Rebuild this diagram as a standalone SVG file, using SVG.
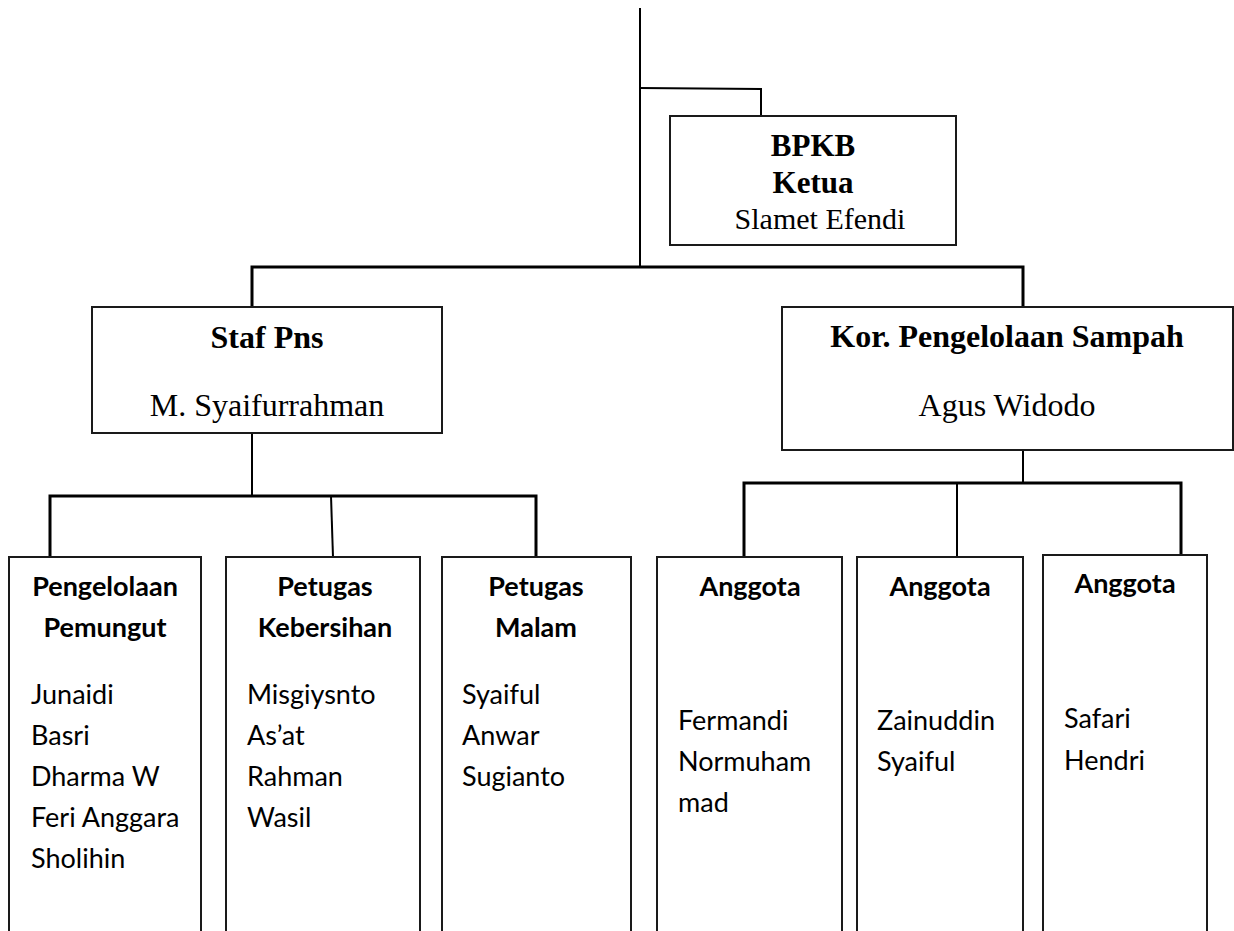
<svg xmlns="http://www.w3.org/2000/svg" width="1234" height="931" viewBox="0 0 1234 931">
<style>
.box{fill:#fff;stroke:#1a1a1a;stroke-width:2}
.ln{fill:none;stroke:#000;stroke-width:2}
.lt{fill:none;stroke:#000;stroke-width:3}
.sb{font-family:"Liberation Serif",serif;font-weight:bold;fill:#000;text-anchor:middle}
.sr{font-family:"Liberation Serif",serif;fill:#000;text-anchor:middle}
.cb{font-family:Lato,"Open Sans",sans-serif;font-weight:bold;font-size:27px;fill:#000;text-anchor:middle}
.cr{font-family:Lato,"Open Sans",sans-serif;font-size:27px;fill:#000}
</style>
<rect width="1234" height="931" fill="#fff"/>
<g id="connectors">
<path class="ln" d="M640,8 V267"/>
<path class="ln" d="M640,88 L761,89 V140"/>
<path class="lt" d="M252,307 V267 H1023 V307"/>
<path class="ln" d="M252,433 V496"/>
<path class="lt" d="M50,557 V496 H536 V557"/>
<path class="ln" d="M331,496 L333,557"/>
<path class="ln" d="M1023,450 V483"/>
<path class="lt" d="M744,557 V483 H1181 V556"/>
<path class="ln" d="M957,483 V557"/>
</g>
<g id="bpkb">
<rect class="box" x="670" y="116" width="286" height="129"/>
<text class="sb" x="813" y="156" font-size="31">BPKB</text>
<text class="sb" x="813" y="193" font-size="31">Ketua</text>
<text class="sr" x="820" y="229" font-size="30">Slamet Efendi</text>
</g>
<g id="staf">
<rect class="box" x="92" y="307" width="350" height="126"/>
<text class="sb" x="267" y="348" font-size="32">Staf Pns</text>
<text class="sr" x="267" y="416" font-size="32">M. Syaifurrahman</text>
</g>
<g id="kor">
<rect class="box" x="782" y="307" width="451" height="143"/>
<text class="sb" x="1007" y="347" font-size="32">Kor. Pengelolaan Sampah</text>
<text class="sr" x="1007" y="416" font-size="32">Agus Widodo</text>
</g>
<g id="pemungut">
<rect class="box" x="9" y="557" width="192" height="400"/>
<text class="cb" x="105" y="596">Pengelolaan</text>
<text class="cb" x="105" y="637">Pemungut</text>
<text class="cr" x="31" y="704">Junaidi</text>
<text class="cr" x="31" y="745">Basri</text>
<text class="cr" x="31" y="786">Dharma W</text>
<text class="cr" x="31" y="827">Feri Anggara</text>
<text class="cr" x="31" y="868">Sholihin</text>
</g>
<g id="kebersihan">
<rect class="box" x="226" y="557" width="194" height="400"/>
<text class="cb" x="325" y="596">Petugas</text>
<text class="cb" x="325" y="637">Kebersihan</text>
<text class="cr" x="247" y="704">Misgiysnto</text>
<text class="cr" x="247" y="745">As’at</text>
<text class="cr" x="247" y="786">Rahman</text>
<text class="cr" x="247" y="827">Wasil</text>
</g>
<g id="malam">
<rect class="box" x="442" y="557" width="189" height="400"/>
<text class="cb" x="536" y="596">Petugas</text>
<text class="cb" x="536" y="637">Malam</text>
<text class="cr" x="462" y="704">Syaiful</text>
<text class="cr" x="462" y="745">Anwar</text>
<text class="cr" x="462" y="786">Sugianto</text>
</g>
<g id="anggota1">
<rect class="box" x="657" y="557" width="185" height="400"/>
<text class="cb" x="750" y="596">Anggota</text>
<text class="cr" x="678" y="730">Fermandi</text>
<text class="cr" x="678" y="771">Normuham</text>
<text class="cr" x="678" y="812">mad</text>
</g>
<g id="anggota2">
<rect class="box" x="857" y="557" width="166" height="400"/>
<text class="cb" x="940" y="596">Anggota</text>
<text class="cr" x="877" y="730">Zainuddin</text>
<text class="cr" x="877" y="771">Syaiful</text>
</g>
<g id="anggota3">
<rect class="box" x="1043" y="555" width="164" height="400"/>
<text class="cb" x="1125" y="593">Anggota</text>
<text class="cr" x="1064" y="728">Safari</text>
<text class="cr" x="1064" y="770">Hendri</text>
</g>
</svg>
